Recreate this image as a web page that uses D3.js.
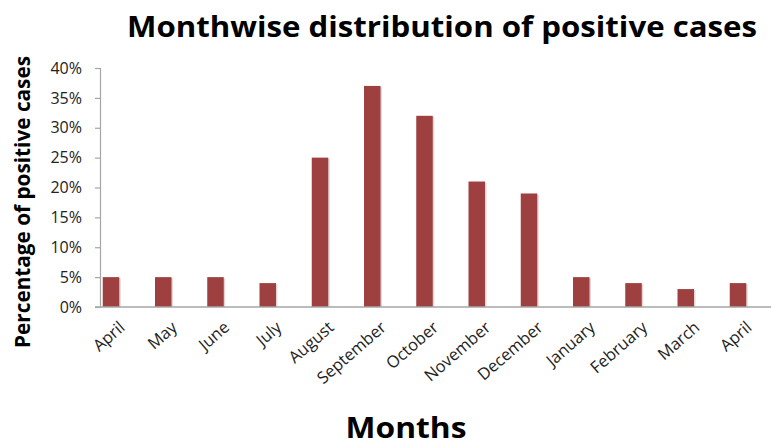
<!DOCTYPE html>
<html><head><meta charset="utf-8">
<script src="https://cdn.jsdelivr.net/npm/d3@7"></script>
<style>body{margin:0;background:#fff;}svg{display:block;font-family:"Open Sans",sans-serif;}</style>
</head><body>
<script>
const months = ["April","May","June","July","August","September","October","November","December","January","February","March","April"];
const values = [5,5,5,4,25,37,32,21,19,5,4,3,4];
const yTicks = [0,5,10,15,20,25,30,35,40];
const title = "Monthwise distribution of positive cases";
const xTitle = "Months";
const yTitle = "Percentage of positive cases";

const W = 771, H = 445;
const svg = d3.select("body").append("svg").attr("width", W).attr("height", H);
const keys = months.map((m,i)=>i);
const x = d3.scalePoint().domain(keys).range([111, 738]);
const y = d3.scaleLinear().domain([0,40]).range([307, 68]);
const barW = 16.5;

// bar shadows
svg.append("g").selectAll("rect").data(values).join("rect")
  .attr("x",(d,i)=>x(i)-barW/2+1.5).attr("y",d=>y(d)+1)
  .attr("width",barW).attr("height",d=>y(0)-y(d)-1)
  .attr("fill","#e4d6d6");
svg.append("g").selectAll("rect").data(values).join("rect")
  .attr("x",(d,i)=>x(i)-barW/2).attr("y",d=>y(d))
  .attr("width",barW).attr("height",d=>y(0)-y(d))
  .attr("fill","#9e4040");

// y axis
const ya = svg.append("g").attr("transform","translate(100,0)")
  .call(d3.axisLeft(y).tickValues(yTicks).tickSize(5).tickPadding(13).tickFormat(d=>d+"%"));
ya.select(".domain").attr("stroke","#a6a6a6").attr("stroke-width",1.2);
ya.selectAll(".tick line").attr("stroke","#a6a6a6").attr("stroke-width",1.2);
ya.selectAll("text").attr("font-size",16).attr("fill","#222").attr("font-family","Open Sans");

// x axis line
svg.append("line").attr("x1",95).attr("x2",771).attr("y1",y(0)).attr("y2",y(0))
  .attr("stroke","#a6a6a6").attr("stroke-width",1.5);

// x labels
svg.append("g").selectAll("text").data(months).join("text")
  .attr("transform",(d,i)=>`translate(${x(i)+15},${y(0)+22}) rotate(-41)`)
  .attr("text-anchor","end").attr("font-size",16.5).attr("fill","#222")
  .text(d=>d);

// titles
svg.append("text").attr("x",442).attr("y",37).attr("text-anchor","middle")
  .attr("font-size",29).attr("font-weight","bold").attr("fill","#000")
  .attr("textLength",630).attr("lengthAdjust","spacingAndGlyphs").text(title);
svg.append("text").attr("x",406).attr("y",438).attr("text-anchor","middle")
  .attr("font-size",28).attr("font-weight","bold").attr("fill","#000")
  .attr("textLength",121).attr("lengthAdjust","spacingAndGlyphs").text(xTitle);
svg.append("text").attr("transform","translate(30,202) rotate(-90)").attr("text-anchor","middle")
  .attr("font-size",22).attr("font-weight","bold").attr("fill","#000")
  .attr("textLength",292).attr("lengthAdjust","spacingAndGlyphs").text(yTitle);
</script>
</body></html>
